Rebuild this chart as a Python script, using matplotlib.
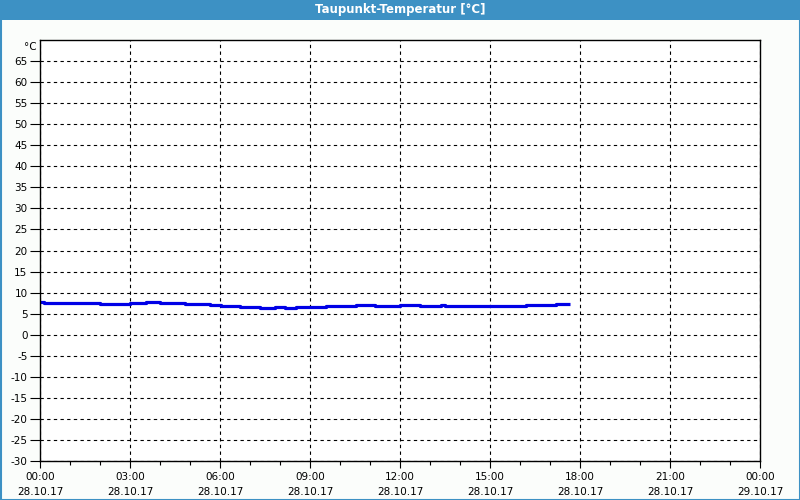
import matplotlib
matplotlib.use("Agg")
import matplotlib.pyplot as plt
from matplotlib.patches import Rectangle
from matplotlib.transforms import blended_transform_factory

# Step data: time (HH:MM) of each change and dew point value (°C)
times = ["00:00", "00:08", "02:00", "03:00", "03:32", "04:00", "04:50", "05:40",
         "06:02", "06:40", "07:20", "07:50", "08:10", "08:32", "09:32", "10:32",
         "11:10", "12:00", "12:40", "13:22", "13:30", "16:12", "17:12", "17:40"]
values = [7.75, 7.45, 7.3, 7.45, 7.7, 7.45, 7.3, 7.1,
          6.8, 6.6, 6.35, 6.6, 6.35, 6.6, 6.8, 7.05,
          6.8, 7.05, 6.8, 7.05, 6.8, 7.05, 7.3, 7.3]

x_tick_hours = [0, 3, 6, 9, 12, 15, 18, 21, 24]
x_tick_labels = ["00:00\n28.10.17", "03:00\n28.10.17", "06:00\n28.10.17",
                 "09:00\n28.10.17", "12:00\n28.10.17", "15:00\n28.10.17",
                 "18:00\n28.10.17", "21:00\n28.10.17", "00:00\n29.10.17"]
y_ticks = list(range(-30, 70, 5))
title = "Taupunkt-Temperatur [°C]"
unit = "°C"

hours = [int(t[:2]) + int(t[3:]) / 60 for t in times]

fig = plt.figure(figsize=(8, 5), dpi=100)
fig.patch.set_facecolor("#fbfdfb")

# title bar and frame
fig.patches.append(Rectangle((0, 480 / 500), 1, 20 / 500, transform=fig.transFigure,
                             facecolor="#3d91c4", edgecolor="none", zorder=0))
fig.patches.append(Rectangle((0.5 / 800, 0.5 / 500), 799 / 800, 499 / 500, transform=fig.transFigure,
                             facecolor="none", edgecolor="#3d91c4", linewidth=1.5, zorder=0))
fig.text(0.5, 490 / 500, title, color="white", fontsize=8.5, fontweight="bold",
         ha="center", va="center")

ax = fig.add_axes([40 / 800, 39 / 500, 720 / 800, 421 / 500])
ax.set_facecolor("white")
ax.plot(hours, values, drawstyle="steps-post", color="#0000e6", linewidth=2.3,
        solid_capstyle="butt")

ax.set_xlim(0, 24)
ax.set_ylim(-30, 70)
ax.set_xticks(x_tick_hours)
ax.set_xticklabels(x_tick_labels, fontsize=7.5, linespacing=1.6)
ax.set_xticks(range(0, 25), minor=True)
ax.set_yticks(y_ticks)
ax.set_yticklabels([str(v) for v in y_ticks], fontsize=7.5)
ax.tick_params(axis="y", length=7, width=0.8, pad=2)
ax.tick_params(axis="x", which="major", length=5, width=0.8, pad=3)
ax.tick_params(axis="x", which="minor", length=3, width=0.8)

ax.grid(True, which="major", color="black", linestyle=(0, (3, 3)), linewidth=0.8)
for s in ax.spines.values():
    s.set_linewidth(1.0)
    s.set_color("black")

tr = blended_transform_factory(ax.transAxes, ax.transData)
ax.text(-0.005, 69.5, unit, transform=tr, fontsize=7.5, ha="right", va="top")

fig.savefig("out.png", dpi=100, facecolor=fig.get_facecolor())
